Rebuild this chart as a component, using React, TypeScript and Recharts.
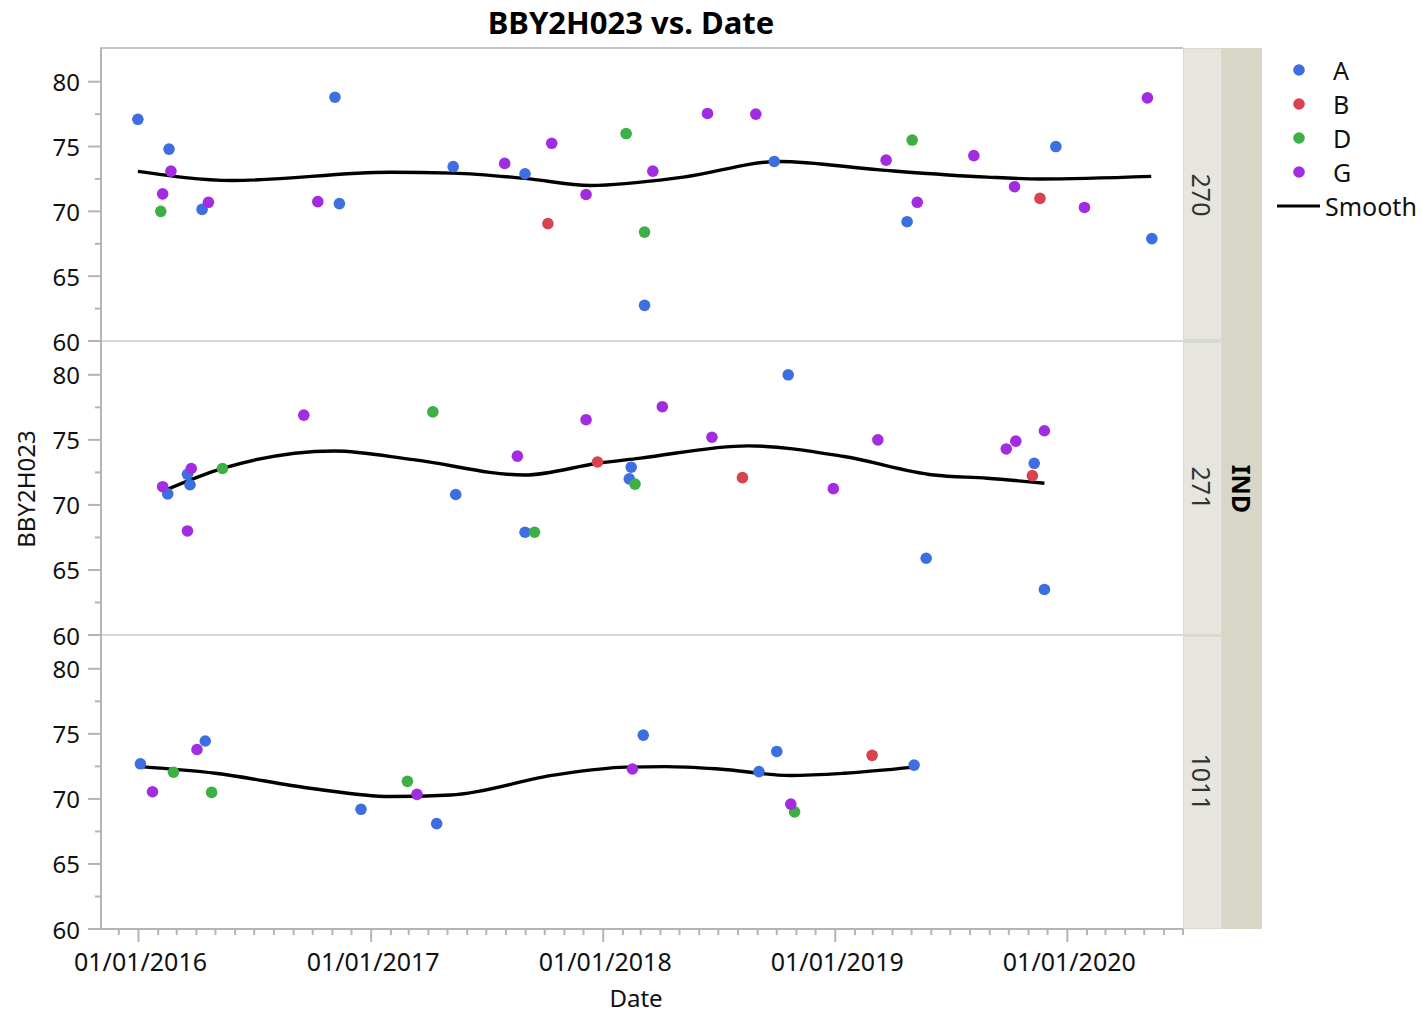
import React from 'react';
import { ComposedChart, Scatter, Line, XAxis, YAxis } from 'recharts';

const FONT = '"Noto Sans", "Open Sans", sans-serif';

type Pt = [string, number];

// ---- categories ----
const panelNames = ['270', '271', '1011'];
const groupNames = ['A', 'B', 'D', 'G'];
const groupColors = ['#3d6fe1', '#d9434f', '#3caf45', '#a22de0'];
const yearTickLabels = ['01/01/2016', '01/01/2017', '01/01/2018', '01/01/2019', '01/01/2020'];
const yMajorTicks = [60, 65, 70, 75, 80];
const yMinorTicks = [62.5, 67.5, 72.5, 77.5];

// ---- panel 270 ----
const p270A: Pt[] = [['2015-12-31', 77.1], ['2016-02-18', 74.8], ['2016-04-10', 70.15], ['2016-11-05', 78.8], ['2016-11-12', 70.6], ['2017-05-10', 73.45], ['2017-08-31', 72.9], ['2018-03-07', 62.75], ['2018-09-27', 73.85], ['2019-04-24', 69.2], ['2019-12-14', 75.0], ['2020-05-13', 67.9]];
const p270B: Pt[] = [['2017-10-06', 69.05], ['2019-11-19', 71.0]];
const p270D: Pt[] = [['2016-02-05', 70.0], ['2018-02-06', 76.0], ['2018-03-07', 68.4], ['2019-05-02', 75.5]];
const p270G: Pt[] = [['2016-02-08', 71.35], ['2016-02-21', 73.1], ['2016-04-20', 70.7], ['2016-10-09', 70.75], ['2017-07-30', 73.7], ['2017-10-12', 75.25], ['2017-12-05', 71.3], ['2018-03-20', 73.1], ['2018-06-14', 77.55], ['2018-08-29', 77.5], ['2019-03-22', 73.95], ['2019-05-10', 70.7], ['2019-08-07', 74.3], ['2019-10-10', 71.9], ['2020-01-28', 70.3], ['2020-05-06', 78.75]];
const p270Smooth: Pt[] = [['2015-12-31', 73.08], ['2016-05-28', 72.38], ['2017-01-31', 73.02], ['2017-05-10', 72.95], ['2017-08-31', 72.54], ['2017-12-12', 72.0], ['2018-05-07', 72.64], ['2018-10-05', 73.85], ['2019-03-12', 73.2], ['2019-08-28', 72.64], ['2019-11-19', 72.5], ['2020-05-12', 72.7]];

// ---- panel 271 ----
const p271A: Pt[] = [['2016-02-16', 70.85], ['2016-03-18', 72.35], ['2016-03-22', 71.55], ['2017-05-14', 70.8], ['2017-08-31', 67.9], ['2018-02-14', 72.9], ['2018-02-11', 72.0], ['2018-10-19', 80.0], ['2019-05-24', 65.9], ['2019-11-10', 73.2], ['2019-11-26', 63.5]];
const p271B: Pt[] = [['2017-12-23', 73.3], ['2018-08-08', 72.1], ['2019-11-07', 72.25]];
const p271D: Pt[] = [['2016-05-12', 72.8], ['2017-04-08', 77.15], ['2017-09-15', 67.9], ['2018-02-20', 71.6]];
const p271G: Pt[] = [['2016-02-08', 71.4], ['2016-03-24', 72.8], ['2016-03-18', 68.0], ['2016-09-17', 76.9], ['2017-08-19', 73.75], ['2017-12-05', 76.55], ['2018-04-04', 77.55], ['2018-06-21', 75.2], ['2018-12-29', 71.25], ['2019-03-09', 75.0], ['2019-09-27', 74.3], ['2019-10-12', 74.9], ['2019-11-26', 75.7]];
const p271Smooth: Pt[] = [['2016-02-11', 71.1], ['2016-05-12', 72.8], ['2016-11-04', 74.15], ['2017-03-11', 73.46], ['2017-08-30', 72.3], ['2017-12-24', 73.2], ['2018-03-01', 73.6], ['2018-08-17', 74.54], ['2019-01-15', 73.72], ['2019-06-05', 72.3], ['2019-08-28', 72.05], ['2019-11-26', 71.67]];

// ---- panel 1011 ----
const p1011A: Pt[] = [['2016-01-04', 72.7], ['2016-04-15', 74.45], ['2016-12-16', 69.2], ['2017-04-14', 68.1], ['2018-03-05', 74.9], ['2018-09-03', 72.1], ['2018-10-01', 73.65], ['2019-05-05', 72.6]];
const p1011B: Pt[] = [['2019-02-28', 73.35]];
const p1011D: Pt[] = [['2016-02-25', 72.05], ['2016-04-25', 70.5], ['2017-02-27', 71.35], ['2018-10-29', 69.0]];
const p1011G: Pt[] = [['2016-01-23', 70.55], ['2016-04-02', 73.8], ['2017-03-14', 70.35], ['2018-02-16', 72.3], ['2018-10-23', 69.6]];
const p1011Smooth: Pt[] = [['2016-01-04', 72.48], ['2016-05-01', 71.97], ['2016-09-27', 70.82], ['2017-01-31', 70.18], ['2017-05-06', 70.3], ['2017-10-18', 71.85], ['2018-02-05', 72.44], ['2018-04-09', 72.48], ['2018-07-02', 72.3], ['2018-10-23', 71.8], ['2019-01-15', 71.97], ['2019-05-05', 72.44]];

const panelGroups: Pt[][][] = [
  [p270A, p270B, p270D, p270G],
  [p271A, p271B, p271D, p271G],
  [p1011A, p1011B, p1011D, p1011G],
];
const panelSmooth: Pt[][] = [p270Smooth, p271Smooth, p1011Smooth];

const toRows = (pts: Pt[]) => pts.map(([d, v]) => ({ t: Date.parse(d), v }));

// ---- layout ----
const PLOT_L = 101;
const PLOT_R = 1183;
const panelTops = [48, 341, 635];
const panelBottoms = [341, 635, 929];
const X_DOMAIN: [number, number] = [Date.UTC(2015, 10, 3), Date.UTC(2020, 6, 1)];
const Y_DOMAIN: [number, number] = [60, 82.6];

const monthTicks: number[] = [];
for (let y = 2015; y <= 2020; y++) {
  for (let m = 0; m < 12; m++) {
    const t = Date.UTC(y, m, 1);
    if (t >= X_DOMAIN[0] && t <= X_DOMAIN[1]) monthTicks.push(t);
  }
}
const yTicks = [...yMajorTicks, ...yMinorTicks].sort((a, b) => a - b);

const AXIS_GRAY = '#b4b4b4';

const XTick = (props: any) => {
  const { x, y, payload } = props;
  const d = new Date(payload.value);
  const major = d.getUTCMonth() === 0;
  const idx = d.getUTCFullYear() - 2016;
  return (
    <g>
      <line x1={x} x2={x} y1={y} y2={y + (major ? 13 : 6)} stroke={AXIS_GRAY} strokeWidth={2} />
      {major && idx >= 0 && idx < yearTickLabels.length && (
        <text x={x + 2} y={y + 32} textAnchor="middle" dominantBaseline="central" fontSize={25} fontFamily={FONT} fill="#111">
          {yearTickLabels[idx]}
        </text>
      )}
    </g>
  );
};

const YTick = (props: any) => {
  const { x, y, payload } = props;
  const major = yMajorTicks.includes(payload.value);
  return (
    <g>
      <line x1={x} x2={x - (major ? 13 : 6)} y1={y} y2={y} stroke={AXIS_GRAY} strokeWidth={2} />
      {major && (
        <text x={x - 21} y={y} textAnchor="end" dominantBaseline="central" fontSize={24} fontFamily={FONT} fill="#111">
          {payload.value}
        </text>
      )}
    </g>
  );
};

const Panel = ({ idx }: { idx: number }) => {
  const top = panelTops[idx];
  const h = panelBottoms[idx] - top;
  const last = idx === panelNames.length - 1;
  const mTop = 16;
  const xAxisH = last ? 60 : 0;
  const mBottom = last ? 0 : 16;
  const width = PLOT_R + 17;
  return (
    <div style={{ position: 'absolute', left: 0, top: top - mTop }}>
      <ComposedChart
        width={width}
        height={mTop + h + xAxisH + mBottom}
        margin={{ top: mTop, right: width - PLOT_R, bottom: mBottom, left: 0 }}
      >
        <XAxis
          dataKey="t"
          type="number"
          domain={X_DOMAIN}
          allowDataOverflow
          ticks={monthTicks}
          interval={0}
          hide={!last}
          height={xAxisH}
          tickLine={false}
          tickSize={0}
          tickMargin={0}
          axisLine={{ stroke: AXIS_GRAY, strokeWidth: 2 }}
          tick={<XTick />}
        />
        <YAxis
          dataKey="v"
          type="number"
          domain={Y_DOMAIN}
          allowDataOverflow
          ticks={yTicks}
          interval={0}
          width={PLOT_L}
          tickLine={false}
          tickSize={0}
          tickMargin={0}
          axisLine={{ stroke: AXIS_GRAY, strokeWidth: 2 }}
          tick={<YTick />}
        />
        {panelGroups[idx].map((pts, g) => (
          <Scatter
            key={groupNames[g]}
            name={groupNames[g]}
            data={toRows(pts)}
            dataKey="v"
            fill={groupColors[g]}
            isAnimationActive={false}
            shape={(p: any) => <circle cx={p.cx} cy={p.cy} r={5.8} fill={groupColors[g]} />}
          />
        ))}
        <Line
          data={toRows(panelSmooth[idx])}
          dataKey="v"
          type="monotone"
          stroke="#000"
          strokeWidth={3.4}
          dot={false}
          activeDot={false}
          isAnimationActive={false}
        />
      </ComposedChart>
    </div>
  );
};

const Legend = () => (
  <svg width={152} height={180} style={{ position: 'absolute', left: 1270, top: 50 }}>
    {groupNames.map((g, i) => (
      <g key={g}>
        <circle cx={29} cy={20 + i * 34} r={5.8} fill={groupColors[i]} />
        <text x={63} y={20 + i * 34} dominantBaseline="central" fontSize={25} fontFamily={FONT} fill="#111">{g}</text>
      </g>
    ))}
    <line x1={7} x2={50} y1={156} y2={156} stroke="#000" strokeWidth={3} />
    <text x={55} y={156} dominantBaseline="central" fontSize={25} fontFamily={FONT} fill="#111">Smooth</text>
  </svg>
);

export default function App() {
  return (
    <div style={{ position: 'relative', width: 1422, height: 1012, background: '#fff', fontFamily: FONT, overflow: 'hidden' }}>
      <style>{`body{margin:0;}`}</style>
      {/* title */}
      <div style={{ position: 'absolute', left: 631, top: 22, transform: 'translate(-50%,-50%)', fontSize: 31, fontWeight: 700, whiteSpace: 'nowrap', color: '#000' }}>
        BBY2H023 vs. Date
      </div>
      {/* panel frame lines */}
      <div style={{ position: 'absolute', left: PLOT_L - 1, top: 47, width: PLOT_R - PLOT_L + 1, height: 2, background: '#c4c4c4' }} />
      {panelTops.slice(1).map((t) => (
        <div key={t} style={{ position: 'absolute', left: PLOT_L, top: t - 1, width: 1222 - PLOT_L, height: 2, background: '#d8d8d8' }} />
      ))}
      {panelNames.map((_, i) => (
        <Panel key={i} idx={i} />
      ))}
      {/* strips */}
      {panelNames.map((name, i) => (
        <React.Fragment key={name}>
          <div style={{ position: 'absolute', left: PLOT_R, top: panelTops[i] + (i ? 1 : 0), width: 39, height: panelBottoms[i] - panelTops[i] - 1, background: '#e6e6df', border: '1px solid #d9d9ce', boxSizing: 'border-box' }} />
          <div style={{ position: 'absolute', left: 1202, top: (panelTops[i] + panelBottoms[i]) / 2, transform: 'translate(-50%,-50%) rotate(90deg)', fontSize: 25, color: '#333', whiteSpace: 'nowrap' }}>
            {name}
          </div>
        </React.Fragment>
      ))}
      <div style={{ position: 'absolute', left: 1222, top: 48, width: 40, height: 881, background: '#d8d6c6' }} />
      <div style={{ position: 'absolute', left: 1242, top: 489, transform: 'translate(-50%,-50%) rotate(90deg)', fontSize: 25, fontWeight: 700, color: '#000', whiteSpace: 'nowrap' }}>
        IND
      </div>
      {/* axis labels */}
      <div style={{ position: 'absolute', left: 25, top: 489, transform: 'translate(-50%,-50%) rotate(-90deg)', fontSize: 24, color: '#111', whiteSpace: 'nowrap' }}>
        BBY2H023
      </div>
      <div style={{ position: 'absolute', left: 636, top: 997, transform: 'translate(-50%,-50%)', fontSize: 24, color: '#111', whiteSpace: 'nowrap' }}>
        Date
      </div>
      <Legend />
    </div>
  );
}
